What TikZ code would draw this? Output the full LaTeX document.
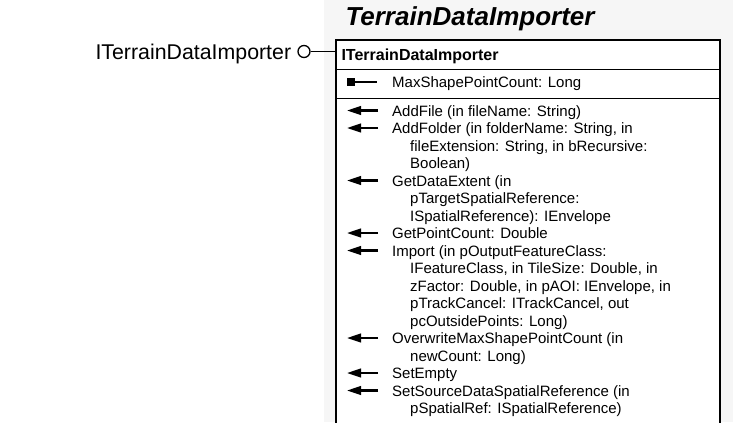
\documentclass[tikz,border=0pt]{standalone}
\usepackage{fontspec}
\setmainfont{Liberation Sans}
\usetikzlibrary{arrows.meta}

\tikzset{every picture/.style={line width=0.75pt}}
\tikzset{
  optxt/.style={anchor=base west, inner sep=0pt, align=left, font=\fontsize{11.25}{13.125}\selectfont},
  opicon/.style={line width=1.6pt, -{Triangle[length=10.5pt,width=6.5pt]}},
}
\newcommand{\contline}{\\\hspace*{13.5pt}}

\begin{document}
\begin{tikzpicture}[x=0.75pt,y=0.75pt,yscale=-1,xscale=1]
\useasboundingbox (0,0) rectangle (745,422);

%Shape: Rectangle [id:background]
\fill [color={rgb, 255:red, 246; green, 246; blue, 246 }] (324,0) rectangle (733,422);

%Shape: Class box (open at the bottom)
\fill [white] (336,40) rectangle (720,423);
\draw [line width=1.5] (336,423) -- (336,40) -- (720,40) -- (720,423);
%Straight Lines [id:header separator]
\draw    (336,69) -- (720,69) ;
%Straight Lines [id:attribute separator]
\draw    (336,98) -- (720,98) ;

% Text Node
\node (title) [anchor=base west, inner sep=0pt, font=\fontsize{19.5}{23}\selectfont\bfseries\itshape] at (345,25) {TerrainDataImporter};
% Text Node
\node (hdr) [anchor=base west, inner sep=0pt, font=\fontsize{12}{14}\selectfont\bfseries] at (341,60) {ITerrainDataImporter};

% Text Node
\node (ifc) [anchor=base west, inner sep=0pt, font=\fontsize{16}{18}\selectfont] at (95,59) {ITerrainDataImporter};
%Shape: Ellipse [id:lollipop]
\node (lolli) [circle, draw, inner sep=0pt, minimum size=9pt, line width=1] at (304,51.5) {};
\coordinate (boxW) at (336,51.5);
%Straight Lines [id:interface link]
\draw [line width=1]   (lolli) -- (boxW) ;

%Shape: Square [id:property icon]
\fill    (347,78) rectangle (355,86) ;
\draw [line width=1]   (355,82) -- (377,82) ;
% Text Node
\node (prop) [optxt] at (391.7,87.5) {MaxShapePointCount: Long};

%Straight Lines [id:method icons]
\draw [opicon]   (378,110.5) -- (347,110.5) ;
\draw [opicon]   (378,128) -- (347,128) ;
\draw [opicon]   (378,180.5) -- (347,180.5) ;
\draw [opicon]   (378,233) -- (347,233) ;
\draw [opicon]   (378,250.5) -- (347,250.5) ;
\draw [opicon]   (378,338) -- (347,338) ;
\draw [opicon]   (378,373) -- (347,373) ;
\draw [opicon]   (378,390.5) -- (347,390.5) ;

% Text Node (anchored on the baseline of the last line)
\node (addfile) [optxt] at (391.7,116) {AddFile (in fileName: String)};
% Text Node
\node (addfolder) [optxt] at (391.7,168.5) {AddFolder (in folderName: String, in\contline fileExtension: String, in bRecursive:\contline Boolean)};
% Text Node
\node (extent) [optxt] at (391.7,221) {GetDataExtent (in\contline pTargetSpatialReference:\contline ISpatialReference): IEnvelope};
% Text Node
\node (count) [optxt] at (391.7,238.5) {GetPointCount: Double};
% Text Node
\node (import) [optxt] at (391.7,326) {Import (in pOutputFeatureClass:\contline IFeatureClass, in TileSize: Double, in\contline zFactor: Double, in pAOI: IEnvelope, in\contline pTrackCancel: ITrackCancel, out\contline pcOutsidePoints: Long)};
% Text Node
\node (overwrite) [optxt] at (391.7,361) {OverwriteMaxShapePointCount (in\contline newCount: Long)};
% Text Node
\node (empty) [optxt] at (391.7,378.5) {SetEmpty};
% Text Node
\node (srcref) [optxt] at (391.7,413.5) {SetSourceDataSpatialReference (in\contline pSpatialRef: ISpatialReference)};

\end{tikzpicture}
\end{document}
